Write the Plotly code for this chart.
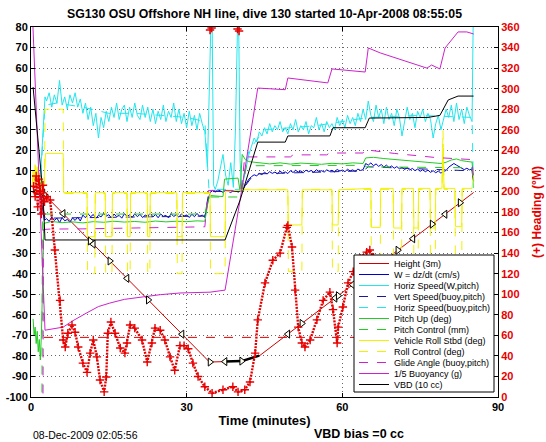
import numpy as np
import plotly.graph_objects as go

FONT = "Liberation Sans, Arial, Helvetica, sans-serif"

# ---------------- time bases (minutes) ----------------
t_desc = np.round(np.arange(3.0, 33.51, 0.5), 2)   # descent samples
t_asc = np.round(np.arange(41.0, 85.01, 0.5), 2)   # ascent samples

# ---------------- depth ("Height (3m)") ----------------
depth_t = [0.3, 2.3, 34.4, 41.0, 44.1, 85.3]
depth_v = [-0.5, -0.8, -83.0, -82.5, -79.8, -0.5]
bottom_line_t = [2.5, 85.3]
bottom_line_v = [-71.0, -71.0]
apogee_t = [37.4, 40.6, 44.0]
tri_t = [2.3, 2.7, 6.2, 11.4, 12.0, 15.2, 18.5, 22.6, 29.1, 34.5, 37.4, 40.6,
         49.5, 52.2, 58.6, 59.2, 62.0, 70.7, 73.6, 77.3, 79.8, 82.7]

# ---------------- W = dz/dt ----------------
w_start_t = [1.7, 2.2, 2.6]
w_start_v = [0, -9, -14]
w_desc_v = [-13.2, -14.6, -12.4, -14.1, -13.0, -15.2, -12.7, -14.3, -13.6, -15.0, -12.9, -14.1, -12.5, -14.4,
            -11.5, -12.8, -10.9, -12.3, -11.2, -13.1, -11.6, -12.4, -10.7, -12.0, -11.3, -12.9, -11.0, -12.2,
            -11.7, -13.0, -10.8, -12.1, -11.4, -12.6, -10.9, -12.3, -11.1, -12.7, -11.5, -12.0, -10.6, -12.4,
            -11.2, -12.8, -11.0, -12.1, -11.6, -12.9, -10.8, -12.2, -11.3, -12.5, -10.9, -12.0, -11.4, -12.7,
            -11.1, -12.3, -10.7, -12.1, -11.5, -12.6]
w_bot_t = [34.0, 34.5, 35.0, 35.5, 36.0, 36.5, 37.0, 37.5, 38.0, 38.5, 39.0, 39.5, 40.0, 40.5]
w_bot_v = [-6, -0.5, 0.5, -0.3, 0.8, 0.2, -0.4, 0.6, 0.1, -0.5, 0.4, 0.2, -0.3, 0.5]
w_asc_v = [1.5, 4, 6, 7.2, 8.1, 7.6, 8.8, 8.2, 9.3, 8.5, 9.6, 8.8, 9.4, 8.6, 9.9, 8.9, 9.5, 8.7, 10.1, 9.2,
           10.3, 9.4, 10.0, 9.1, 10.4, 9.6, 10.2, 9.3, 10.6, 9.7, 10.1, 9.4, 10.5, 9.8, 10.3, 9.5, 10.7, 9.9, 10.4, 9.6,
           10.8, 10.0, 10.5, 9.7, 10.9, 10.2, 10.6, 13.6, 12.8, 13.9, 12.5, 13.4, 12.2, 13.1, 11.9, 12.8, 11.6, 12.4, 11.3, 12.1,
           11.0, 11.8, 10.7, 11.5, 10.4, 11.2, 10.1, 10.9, 9.8, 10.6, 9.6, 10.4, 9.3, 10.1, 9.1, 9.9, 8.9, 9.7, 10.2, 11.8,
           12.9, 13.6, 12.8, 12.0, 11.4, 10.6, 11.3, 10.5, 11.0]
w_end_t = [85.3]
w_end_v = [5]

# ---------------- Horiz Speed (W,pitch) ----------------
hs_start_t = [1.7, 2.2, 2.7]
hs_start_v = [2, 25, 46]
hs_desc_v = [44, 48, 41, 47, 43, 54, 42, 46, 40, 47, 43, 48, 41, 45,
             38, 43, 35, 41, 32, 38, 26, 36, 31, 39, 34, 41, 36, 43, 35, 40, 42, 34, 41, 36,
             43, 37, 35, 42, 36, 41, 34, 40, 33, 39, 35, 42, 34, 39, 36, 43, 34, 40, 33, 38,
             31, 39, 32, 37, 30, 38, 33, 29]
hs_bot_t = [34.0, 34.55, 34.85, 35.2, 35.5, 36.0, 36.5, 37.0, 37.5, 38.0, 38.5, 39.0, 39.4, 39.65, 39.95, 40.3, 40.6]
hs_bot_v = [12, 100, 100, 3, 1, 5, 12, 18, 8, 3, 14, 2, 30, 100, 100, 15, 1]
hs_asc_v = [6, 12, 18, 22, 26, 24, 29, 27, 31, 28, 33, 29, 32, 30, 34, 29, 31, 28, 33, 30,
            35, 29, 32, 30, 34, 28, 32, 31, 36, 30, 33, 29, 34, 31, 33, 30, 36, 32, 35, 31,
            37, 33, 36, 32, 38, 34, 40, 35, 44, 37, 34, 42, 36, 40, 33, 41, 35, 38, 32, 40,
            36, 27, 34, 41, 35, 38, 31, 39, 36, 40, 34, 38, 35, 26, 33, 37, 30, 35, 40, 36,
            42, 34, 43, 35, 40, 33, 41, 37, 34]
hs_end_t = [85.3]
hs_end_v = [100]

# ---------------- buoyancy-model speeds ----------------
vsb_t = [1.7, 2.7, 33.5, 34.3, 40.5, 43.0, 64.0, 65.0, 85.0, 85.3]
vsb_v = [0, -13, -12, 0, 0, 8.5, 10, 12, 10, 4]
hsb_t = [1.7, 2.7, 5, 10, 15, 20, 25, 30, 33.5, 34.3, 40.5, 42, 45, 55, 65, 75, 85, 85.3]
hsb_v = [0, 42, 43, 41, 38, 38, 37, 36, 34, 1, 1, 20, 30, 32, 36, 37, 36, -3]

# ---------------- pitch ----------------
pitch_t = [0.4, 0.6, 0.8, 1.0, 1.2, 1.4, 1.6, 1.8, 2.0, 2.2, 2.5,
           4, 6, 8, 10, 12, 14, 16, 18, 20, 22, 24, 26, 28, 30, 32, 33.5,
           34.2, 34.6, 37.0, 37.3, 39.9, 40.3, 40.7, 41.3, 42, 44, 46, 48, 50, 52, 54, 56, 58, 60, 62, 64,
           64.5, 66, 68, 70, 72, 74, 76, 78, 79, 80, 81, 82, 83, 84, 85, 85.3]
pitch_v = [-62, -70, -66, -74, -68, -78, -72, -82, -70, -40, -15.5,
           -14.6, -15.2, -14.8, -15.3, -14.7, -15.0, -14.5, -14.9, -14.6, -15.0, -14.4, -14.8, -14.5, -14.7, -14.3, -14.5,
           -4, -2, -2.5, 6, 6.5, 0, 18, 15.5, 14.5, 13.8, 13.4, 13.9, 13.3, 13.8, 13.5, 13.2, 13.7, 13.4, 13.9, 13.6,
           16.3, 16.6, 16.0, 15.5, 15.0, 14.6, 14.2, 13.8, 13.6, 14.2, 15.3, 15.8, 15.0, 14.6, 14.3, 5]
pitchctl_t = [0, 2.1, 2.2, 33.5, 34.2, 40.5, 41.5, 64.3, 64.6, 85.0, 85.3]
pitchctl_v = [-110, -110, -11, -11, -2.7, -2.7, 12.5, 12.7, 12.0, 11.5, 4]

# ---------------- roll ----------------
roll_t = [0.2, 0.4, 0.6, 0.8, 1.0, 1.2, 1.4, 1.6, 1.8, 2.0, 2.2, 2.5, 2.8,
          6.2, 6.3, 10.8, 10.9, 12.3, 12.4, 14.3, 14.4, 15.6, 15.7, 18.5, 18.6, 19.1, 19.2,
          22.4, 22.5, 22.9, 23.0, 28.1, 28.2, 29.1, 29.2, 34.5, 34.6, 37.4, 37.5, 40.7, 41.0,
          49.5, 49.6, 52.2, 52.3, 58.0, 58.1, 59.2, 59.3, 65.5, 65.6, 67.3, 67.4,
          69.8, 69.9, 71.4, 71.5, 73.7, 73.8, 74.6, 74.7, 76.9, 77.0, 77.9, 78.0,
          79.2, 79.4, 79.6, 81.7, 81.8, 83.0, 83.1, 85.0, 85.3]
roll_v = [2, 10, 4, 13, 6, 12, 3, 9, 0, 7, -2, 5, 18.5,
          18.5, -0.6, -0.6, -22, -22, -0.6, -0.6, -22, -22, -0.6, -0.6, -22, -22, -0.6,
          -0.6, -22, -22, -0.6, -0.6, -22, -22, -0.6, -0.6, -22, -22, 0, 0.5, 0.8,
          0.8, -16.3, -16.3, 0.8, 0.8, -16.3, -16.3, 0.8, 1.5, -17.5, -17.5, 1.5,
          1.5, -17.8, -17.8, 1.5, 1.5, -17.8, -17.8, 1.5, 1.5, -17.8, -17.8, 1.5,
          1.5, 23, 1.5, 1.5, -17, -17, 1.5, 1.5, 8]
rollctl_t = [0.2, 2.6, 2.7, 6.2, 6.3, 10.8, 10.9, 12.3, 12.4, 14.3, 14.4, 15.6, 15.7,
             18.5, 18.6, 19.1, 19.2, 22.4, 22.5, 22.9, 23.0, 28.1, 28.2, 29.1, 29.2,
             34.5, 34.6, 37.4, 37.5, 41.0, 49.5, 49.6, 52.2, 52.3, 58.0, 58.1, 59.2, 59.3,
             65.5, 65.6, 67.3, 67.4, 69.8, 69.9, 71.4, 71.5, 73.7, 73.8, 74.6, 74.7,
             76.9, 77.0, 77.9, 78.0, 79.2, 79.4, 79.6, 81.7, 81.8, 83.0, 83.1, 85.3]
rollctl_v = [0, 0, 40, 40, -1, -1, -40, -40, -1, -1, -40, -40, -1,
             -1, -40, -40, -1, -1, -40, -40, -1, -1, -40, -40, -1,
             -1, -40, -40, 0, 1, 1, -39, -39, 1, 1, -39, -39, 1,
             1, -39, -39, 1, 1, -39, -39, 1, 1, -39, -39, 1,
             1, -39, -39, 1, 1, 30, 1, 1, -39, -39, 1, 1]

# ---------------- glide angle, buoyancy, VBD ----------------
glide_t = [0, 2.3, 2.4, 3.7, 10, 20, 33.5, 34.2, 40.5, 41.2, 50, 50.5, 57, 57.5, 64, 64.5, 70, 78, 85, 85.3]
glide_v = [-110, -110, -18.5, -18.3, -18.2, -17.8, -17.2, 0.5, 0.5, 16.8, 16.8, 17.8, 17.8, 18.7, 18.7, 20.3,
           18.5, 16.5, 15.5, 5]
buoy_t = [0.3, 2.7, 6.2, 8, 10.8, 13, 15.2, 18, 21.6, 25, 28.7, 34.5, 37.4, 40.3, 43.7, 49.0, 49.5,
          57.2, 58.0, 64.4, 65.0, 67.3, 76.3, 77.2, 78.8, 79.8, 82.3, 84.0, 85.3]
buoy_v = [85, -67.5, -66, -63, -59, -56, -54.3, -52.5, -51.3, -50.2, -49.4, -49, -48, -4, 50.3, 49.5, 55.2,
          52.8, 59.6, 58.1, 69.8, 67.4, 60, 61.5, 59.6, 69.8, 77.6, 77.6, 76.6]
vbd_t = [0.4, 2.3, 2.7, 37.4, 40.3, 43.7, 49.0, 49.5, 57.6, 58.2, 64.4, 65.2, 76.5, 78.8, 80.4, 82.3, 85.3]
vbd_v = [50.8, -0.7, -23.6, -23.6, -4.2, 24, 24, 27, 27, 31, 31, 35.7, 36, 37, 44.5, 46.4, 46.4]

# ---------------- heading (right axis) ----------------
head_t = [0.5, 0.8, 1.0, 1.3, 1.5, 1.8, 2.0, 2.3, 2.6, 3.0, 3.7, 4.6, 5.6, 6.2, 6.6, 7.1, 7.9, 8.5, 9.1,
          10.0, 10.8, 11.4, 12.0, 12.7, 13.3, 14.1, 14.5, 14.8, 15.4, 16.2, 17.2, 18.1, 18.5, 19.1, 20.0,
          21.4, 22.4, 23.3, 23.9, 24.9, 25.8, 26.8, 27.7, 28.7, 29.5, 30.3, 31.2, 32.2, 33.5, 34.9, 37.0,
          38.9, 39.9, 41.2, 42.2, 43.2, 43.7, 45.1, 46.6, 48.0, 49.3, 49.5, 50.3, 50.9, 51.5, 52.2, 52.8,
          53.8, 55.1, 56.3, 57.6, 58.2, 59.0, 59.2, 60.1, 61.1, 62.1, 63.4, 64.7, 65.3, 66.0, 67.0, 70.0,
          75.0, 80.0, 85.3]
head_v = [205, 195, 215, 185, 212, 200, 178, 206, 190, 195, 191.7, 143, 94, 55.5, 48.7, 62, 70, 63, 48.7,
          33, 24, 42.7, 55.5, 39, 16.5, 5, 19.5, 62, 73, 62, 47.7, 42.7, 52.5, 70, 67,
          55.5, 34, 52.5, 67, 65, 55.5, 39, 26, 50, 50, 47, 33, 20, 10, 3.8, 7,
          10, 5, 7, 14.6, 42.7, 75, 111, 133, 140, 165, 167, 146, 104, 68, 52.5, 48.7,
          55.5, 75, 94, 102, 85, 52.5, 68, 87.6, 111, 122, 135, 141, 143, 136, 125, 110,
          115, 120, 125]
headwrap_t = [34.5, 34.8, 39.8, 40.1]
headwrap_v = [357, 359, 358, 356]

# ---------------- labels ----------------
legend_names = ["Height (3m)", "W = dz/dt (cm/s)", "Horiz Speed(W,pitch)", "Vert Speed(buoy,pitch)",
                "Horiz Speed(buoy,pitch)", "Pitch Up (deg)", "Pitch Control (mm)", "Vehicle Roll Stbd (deg)",
                "Roll Control (deg)", "Glide Angle (buoy,pitch)", "1/5 Buoyancy (g)", "VBD (10 cc)"]
left_ticks = list(range(-100, 81, 10))
right_ticks = list(range(0, 361, 20))
x_ticks = [0, 30, 60, 90]
title_text = "SG130 OSU Offshore NH line, dive 130 started 10-Apr-2008 08:55:05"
stamp_text = "08-Dec-2009 02:05:56"
vbd_text = "VBD bias =0 cc"

# ---------------- build series ----------------
w_t = w_start_t + list(t_desc) + w_bot_t + list(t_asc) + w_end_t
w_v = w_start_v + w_desc_v + w_bot_v + w_asc_v + w_end_v
hs_t = hs_start_t + list(t_desc) + hs_bot_t + list(t_asc) + hs_end_t
hs_v = hs_start_v + hs_desc_v + hs_bot_v + hs_asc_v + hs_end_v

RED = "#e60000"
BLUE = "#0000cc"
CYAN = "#22e6ee"
NAVY = "#1a1a99"
GREEN = "#22cc22"
YELLOW = "#f2f200"
MAGENTA = "#cc22cc"

series = [
    (depth_t, depth_v, "#cc0000", None),
    (w_t, w_v, BLUE, None),
    (hs_t, hs_v, CYAN, None),
    (vsb_t, vsb_v, NAVY, "dash"),
    (hsb_t, hsb_v, CYAN, "dash"),
    (pitch_t, pitch_v, GREEN, None),
    (pitchctl_t, pitchctl_v, GREEN, "dash"),
    (roll_t, roll_v, YELLOW, None),
    (rollctl_t, rollctl_v, YELLOW, "dash"),
    (glide_t, glide_v, MAGENTA, "dash"),
    (buoy_t, buoy_v, MAGENTA, None),
    (vbd_t, vbd_v, "#000000", None),
]

fig = go.Figure()

# heading on the right axis (chain of '+' marks)
fig.add_trace(go.Scatter(x=head_t, y=head_v, yaxis="y2", mode="lines+markers", showlegend=False,
                         line=dict(color=RED, width=2.4, dash="2px,1.2px"),
                         marker=dict(symbol="cross-thin", size=6, line=dict(color=RED, width=1.4))))
fig.add_trace(go.Scatter(x=headwrap_t, y=headwrap_v, yaxis="y2", mode="markers", showlegend=False,
                         marker=dict(symbol="cross-thin", size=6, line=dict(color=RED, width=1.5))))

legend_ids = ["legend"] + [f"legend{i}" for i in range(2, 13)]
for i, ((tx, vy, col, dash), name) in enumerate(zip(series, legend_names)):
    fig.add_trace(go.Scatter(x=tx, y=vy, mode="lines", name=name, legend=legend_ids[i],
                             line=dict(color=col, width=1, dash=dash)))

# extras on the depth trace
fig.add_trace(go.Scatter(x=bottom_line_t, y=bottom_line_v, mode="lines", showlegend=False,
                         line=dict(color=RED, width=1, dash="dash")))
fig.add_trace(go.Scatter(x=apogee_t, y=list(np.interp(apogee_t, depth_t, depth_v)), mode="lines",
                         showlegend=False, line=dict(color="#000000", width=2.5)))
tri_sym = ["triangle-left" if k % 2 == 0 else "triangle-right" for k in range(len(tri_t))]
fig.add_trace(go.Scatter(x=tri_t, y=list(np.interp(tri_t, depth_t, depth_v)), mode="markers",
                         showlegend=False,
                         marker=dict(symbol=tri_sym, size=7, color="#ffffee",
                                     line=dict(color="#000000", width=1))))

# ---------------- layout ----------------
L, R, T, B = 31, 48, 27, 45
W, H = 546, 442
pw, ph = W - L - R, H - T - B

axis_common = dict(showline=True, linecolor="black", linewidth=1, ticks="inside", ticklen=4,
                   tickcolor="black", zeroline=False)
grid_common = dict(showgrid=True, gridcolor="#666666", griddash="1px,3px", gridwidth=0.8)

legends = {}
row0 = 263.5
for i, lid in enumerate(legend_ids):
    yc = row0 + 11.0 * i
    legends[lid] = dict(x=(354 - L) / pw, xanchor="left", y=(H - B - (yc - 14.5)) / ph, yanchor="top",
                        bgcolor="rgba(0,0,0,0)", borderwidth=0, itemwidth=30,
                        font=dict(family=FONT, size=9, color="black"))

fig.update_layout(
    width=W, height=H, margin=dict(l=L, r=R, t=T, b=B, autoexpand=False),
    paper_bgcolor="white", plot_bgcolor="white",
    font=dict(family=FONT, color="black"),
    title=dict(text=title_text, x=0.5, xref="paper", xanchor="center", y=1 - 14 / H, yref="container",
               yanchor="middle", font=dict(family=FONT, size=12.3, weight="bold", color="black")),
    xaxis=dict(range=[0, 90], tickvals=x_ticks, mirror="ticks",
               tickfont=dict(family=FONT, size=11, weight="bold", color="black"),
               title=dict(text="Time (minutes)", standoff=3,
                          font=dict(family=FONT, size=13, weight="bold", color="black")),
               **grid_common, **axis_common),
    yaxis=dict(range=[-100, 80], tickvals=left_ticks, ticktext=[str(v) for v in left_ticks],
               tickfont=dict(family=FONT, size=11, weight="bold", color="black"),
               **grid_common, **axis_common),
    yaxis2=dict(range=[0, 360], tickvals=right_ticks, overlaying="y", side="right", showgrid=False,
                tickfont=dict(family=FONT, size=11, weight="bold", color=RED), automargin=False,
                title=dict(text="(+) Heading (°M)", standoff=14,
                           font=dict(family=FONT, size=12, weight="bold", color=RED)),
                **axis_common),
    shapes=[dict(type="rect", xref="paper", yref="paper", x0=(354 - L) / pw, x1=(494 - L) / pw,
                 y0=(H - B - 392) / ph, y1=(H - B - 255) / ph, line=dict(color="black", width=1),
                 fillcolor="white", layer="above")],
    annotations=[
        dict(text=stamp_text, xref="paper", yref="paper", x=0, xanchor="left", y=(H - B - 435) / ph,
             yanchor="middle", showarrow=False, font=dict(family=FONT, size=10.5, color="black")),
        dict(text=vbd_text, xref="paper", yref="paper", x=(359 - L) / pw, xanchor="center",
             y=(H - B - 433.5) / ph, yanchor="middle", showarrow=False,
             font=dict(family=FONT, size=12.5, weight="bold", color="black")),
    ],
    **legends,
)

fig.write_html("out.html", config={"displayModeBar": False},
               post_script="document.body.style.margin='0px';")
